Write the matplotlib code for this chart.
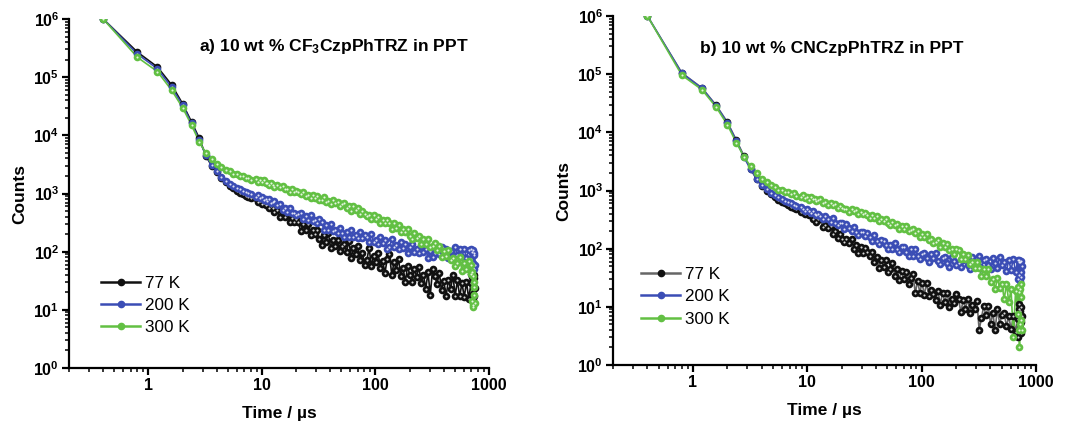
import math
import matplotlib
matplotlib.use("Agg")
import matplotlib.pyplot as plt
from matplotlib.ticker import LogLocator, FixedLocator, FuncFormatter, NullFormatter

plt.rcParams['font.family'] = ['Liberation Sans', 'DejaVu Sans']
plt.rcParams['mathtext.fontset'] = 'custom'
plt.rcParams['mathtext.rm'] = 'Liberation Sans'
plt.rcParams['mathtext.bf'] = 'Liberation Sans:bold'
plt.rcParams['mathtext.it'] = 'Liberation Sans:italic'

# ---- data: time (microseconds) and photon counts ----
time_us = [0.4, 0.8, 1.2, 1.6, 2.0, 2.4, 2.8, 3.2, 3.6, 4.0,
           4.4, 4.8, 5.2, 5.6, 6.0, 6.4, 6.8, 7.2, 7.6, 8.0,
           8.8, 9.2, 9.6, 10.0, 10.4, 10.8, 11.2, 11.6, 12.0, 12.4,
           12.8, 13.6, 14.4, 15.2, 16.0, 16.8, 17.6, 18.4, 19.2, 20.0,
           20.8, 22.0, 23.2, 24.4, 25.6, 26.8, 28.0, 29.2, 30.4, 32.0,
           33.6, 35.2, 36.8, 38.4, 40.4, 42.4, 44.4, 46.4, 48.4, 50.8,
           53.2, 55.6, 58.4, 61.2, 64.0, 66.8, 70.0, 73.2, 76.8, 80.4,
           84.0, 88.0, 92.0, 96.4, 100.8, 105.6, 110.4, 115.6, 121.2, 126.8,
           132.8, 139.2, 145.6, 152.4, 159.6, 167.2, 175.2, 183.2, 192.0, 200.8,
           210.4, 220.4, 230.8, 241.6, 252.8, 264.8, 277.2, 290.4, 304.0, 318.4,
           333.2, 348.8, 365.2, 382.4, 400.4, 419.2, 438.8, 459.6, 481.2, 503.6,
           527.2, 552.0, 578.0, 605.2, 633.6, 663.2, 694.4, 700.4, 706.0, 711.6,
           717.2, 722.8, 728.4, 734.0, 739.6, 745.2, 750.8]

# panel a) CF3CzpPhTRZ
a_77K = [1000000, 270000, 150000, 74000, 35000, 17000, 9000, 4500, 3000, 2300,
         1850, 1550, 1350, 1220, 1120, 1040, 980, 920, 870, 830,
         839, 728, 734, 653, 700, 632, 669, 570, 598, 554,
         486, 526, 394, 490, 394, 478, 324, 382, 327, 371,
         319, 229, 302, 237, 302, 191, 240, 200, 240, 164,
         132, 197, 148, 209, 115, 156, 124, 161, 103, 126,
         137, 100, 151, 79, 115, 90, 123, 73, 93, 59,
         72, 117, 56, 85, 66, 94, 53, 70, 43, 74,
         91, 40, 66, 49, 74, 38, 53, 30, 57, 39,
         30, 50, 37, 55, 29, 40, 23, 44, 18, 50,
         38, 28, 43, 22, 31, 17, 33, 23, 39, 17.5,
         32, 17, 29, 16.5, 30, 15.5, 29, 42, 15, 37,
         19, 43, 15, 35, 17, 40, 24]
a_200K = [1000000, 250000, 140000, 67000, 33000, 16000, 8400, 4600, 3100, 2400,
          1950, 1650, 1450, 1330, 1250, 1180, 1120, 1060, 1010, 970,
          883, 944, 849, 874, 765, 810, 730, 794, 699, 702,
          750, 625, 651, 514, 569, 486, 565, 461, 471, 422,
          442, 471, 362, 416, 349, 424, 338, 350, 312, 362,
          323, 240, 286, 235, 296, 228, 240, 213, 260, 213,
          179, 222, 180, 240, 181, 195, 170, 215, 171, 193,
          180, 144, 199, 145, 158, 137, 180, 140, 161, 113,
          118, 164, 121, 131, 113, 147, 115, 134, 94, 121,
          137, 100, 109, 95, 124, 97, 112, 79, 102, 81,
          93, 102, 90, 119, 94, 111, 79, 104, 83, 118,
          86, 110, 81, 113, 78, 108, 75, 110, 60, 98,
          52, 105, 65, 95, 50, 88, 60]
a_300K = [1000000, 220000, 125000, 60000, 30000, 15000, 7800, 5000, 3900, 3200,
          2900, 2550, 2450, 2200, 2200, 2000, 2020, 1860, 1870, 1740,
          1776, 1587, 1679, 1584, 1679, 1496, 1526, 1403, 1523, 1410,
          1316, 1387, 1276, 1353, 1175, 1197, 1079, 1189, 1081, 1122,
          1079, 990, 1067, 912, 938, 838, 946, 844, 896, 766,
          780, 857, 723, 752, 660, 760, 677, 716, 604, 662,
          698, 567, 599, 509, 604, 519, 554, 444, 495, 440,
          407, 427, 358, 433, 368, 396, 311, 355, 312, 354,
          305, 248, 312, 259, 285, 216, 250, 214, 247, 186,
          162, 211, 169, 189, 137, 163, 138, 164, 119, 127,
          142, 107, 125, 81, 104, 84, 107, 71, 78, 57,
          64, 80, 47, 65, 50, 70, 41, 60, 14, 45,
          11, 38, 12, 30, 18, 25, 13]

# panel b) CNCzpPhTRZ
b_77K = [1000000, 105000, 58000, 29000, 15000, 7300, 3900, 2350, 1550, 1200,
         1000, 870, 770, 700, 640, 600, 560, 530, 500, 475,
         429, 469, 389, 418, 383, 401, 326, 349, 290, 320,
         328, 239, 257, 226, 245, 182, 200, 153, 180, 149,
         129, 147, 127, 145, 100, 117, 85, 107, 85, 101,
         86, 74, 89, 58, 71, 47, 64, 48, 63, 40,
         45, 56, 34, 44, 29, 41, 30, 40, 24.5, 31,
         36, 17, 28, 17.6, 26, 16, 25.8, 15.3, 19.8, 16.9,
         13.2, 18.6, 10.9, 17.6, 12.1, 17.6, 9.9, 13.8, 11.8, 16.4,
         13.5, 8.1, 13.2, 9.3, 13.9, 7.8, 10.8, 9.3, 12.8, 4.0,
         6.4, 10.3, 7.1, 10.4, 5.0, 7.9, 4.0, 9.2, 5.1, 7.3,
         7.7, 4.6, 6.9, 4.1, 6.9, 3.7, 6.1, 3.0, 9.0, 4.0,
         11, 5.0, 8.5, 3.5, 10, 5.5, 7.0]
b_200K = [1000000, 104000, 57000, 28500, 14500, 7100, 3700, 2300, 1600, 1250,
          1050, 920, 830, 760, 710, 670, 630, 600, 570, 545,
          525, 476, 442, 480, 443, 409, 443, 396, 373, 391,
          358, 318, 369, 326, 288, 333, 279, 254, 277, 274,
          219, 264, 228, 199, 238, 194, 174, 196, 194, 164,
          187, 161, 138, 173, 136, 121, 139, 138, 115, 100,
          115, 98, 127, 99, 88, 105, 105, 87, 75, 100,
          74, 100, 76, 66, 81, 83, 68, 59, 82, 69,
          84, 62, 55, 69, 71, 56, 49, 72, 61, 52,
          56, 48, 65, 69, 53, 45, 72, 59, 48, 75,
          47, 63, 66, 52, 44, 69, 57, 47, 72, 52,
          60, 41, 65, 43, 67, 40, 64, 30, 60, 35,
          63, 28, 58, 40, 62, 33, 50]
b_300K = [1000000, 96000, 54000, 27000, 13500, 6600, 3800, 2600, 2000, 1560,
          1400, 1230, 1170, 1030, 1030, 930, 950, 860, 890, 800,
          781, 831, 747, 764, 700, 760, 703, 727, 651, 688,
          709, 612, 622, 560, 616, 560, 581, 508, 542, 502,
          477, 488, 433, 485, 436, 456, 390, 421, 389, 418,
          378, 333, 383, 341, 360, 301, 330, 301, 328, 273,
          252, 293, 256, 270, 221, 246, 221, 244, 199, 207,
          218, 188, 201, 161, 181, 159, 177, 141, 147, 123,
          128, 139, 107, 123, 106, 122, 93, 98, 81, 99,
          96, 67, 80, 66, 79, 55, 59, 46, 60, 46,
          34, 45, 34, 45, 27, 30, 20, 31, 21, 25,
          13.4, 25, 12, 20, 3.0, 19, 7.6, 22, 4.0, 18,
          2.0, 20, 5, 25, 6, 15, 4]

labels = ['77 K', '200 K', '300 K']
x_ticks = [1, 10, 100, 1000]
x_tick_labels = ['1', '10', '100', '1000']
y_exponents = [0, 1, 2, 3, 4, 5, 6]
titles = [r'a) 10 wt % CF$_{\mathbf{3}}$CzpPhTRZ in PPT', 'b) 10 wt % CNCzpPhTRZ in PPT']

col_black = '#111111'
col_blue = '#3B4DB5'
col_green = '#62C043'

W, H = 1069, 423
fig = plt.figure(figsize=(W / 100, H / 100), dpi=100)

ax_a = fig.add_axes([69 / W, 1 - 368 / H, 420 / W, 349 / H])
ax_b = fig.add_axes([613 / W, 1 - 365 / H, 423 / W, 349 / H])


def draw(ax, series, black_line, title, title_xy, leg_anchor):
    cols = [black_line, col_blue, col_green]
    mcols = [col_black, col_blue, col_green]
    handles = []
    for vals, lc, mc, lab in zip(series, cols, mcols, labels):
        n = min(len(time_us), len(vals))
        ax.plot(time_us[:n], vals[:n], '-', color=lc, lw=1.2, zorder=2)
        ax.plot(time_us[:n], vals[:n], 'o', color=mc, ms=5.5, mew=0, zorder=3)
        ax.plot(time_us[:n], vals[:n], 'o', color='white', ms=1.5, mew=0, alpha=0.85, zorder=3)
        h, = ax.plot([], [], '-', color=lc, lw=1.8, marker='o', ms=4.5,
                     mfc=mc, mec=mc, label=lab)
        handles.append(h)
    ax.set_xscale('log')
    ax.set_yscale('log')
    ax.set_xlim(0.2, 1000)
    ax.set_ylim(1, 1e6)
    for s in ['top', 'right']:
        ax.spines[s].set_visible(False)
    for s in ['left', 'bottom']:
        ax.spines[s].set_linewidth(1.6)
    ax.xaxis.set_major_locator(FixedLocator(x_ticks))
    ax.set_xticklabels(x_tick_labels)
    ax.xaxis.set_minor_locator(LogLocator(base=10, subs=[2, 3, 4, 5, 6, 7, 8, 9], numticks=20))
    ax.xaxis.set_minor_formatter(NullFormatter())
    ax.yaxis.set_major_locator(FixedLocator([10.0 ** e for e in y_exponents]))
    ax.yaxis.set_major_formatter(FuncFormatter(
        lambda v, p: r'$\mathbf{10^{%d}}$' % round(math.log10(v))))
    ax.yaxis.set_minor_locator(LogLocator(base=10, subs=[2, 3, 4, 5, 6, 7, 8, 9], numticks=20))
    ax.yaxis.set_minor_formatter(NullFormatter())
    ax.tick_params(which='major', direction='out', length=5, width=1.6, labelsize=11.5, pad=2)
    ax.tick_params(which='minor', direction='out', length=2.8, width=1.1)
    for lbl in ax.get_xticklabels():
        lbl.set_fontweight('bold')
    ax.set_xlabel('Time / µs', fontsize=12.5, fontweight='bold', labelpad=9.5)
    ax.set_ylabel('Counts', fontsize=12.5, fontweight='bold', labelpad=4)
    ax.text(title_xy[0], title_xy[1], title, transform=fig.transFigure, ha='center', va='center',
            fontsize=12.6, fontweight='bold')
    ax.legend(handles=handles, loc='center left', bbox_to_anchor=leg_anchor, frameon=False,
              fontsize=12.3, handlelength=2.3, handletextpad=0.3, labelspacing=0.42,
              borderaxespad=0)


draw(ax_a, [a_77K, a_200K, a_300K], col_black, titles[0], (334 / W, 1 - 47 / H), (0.06, 0.18))
draw(ax_b, [b_77K, b_200K, b_300K], '#666666', titles[1], (832 / W, 1 - 48 / H), (0.05, 0.195))

fig.savefig('out.png', dpi=100)
